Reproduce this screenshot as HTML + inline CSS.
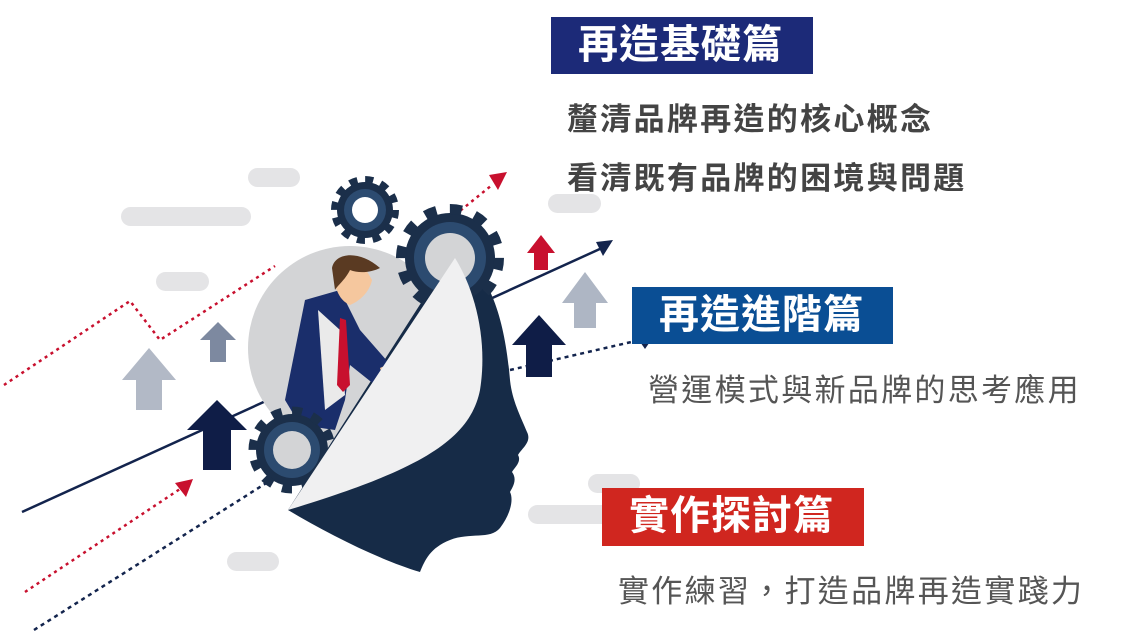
<!DOCTYPE html>
<html><head><meta charset="utf-8"><style>
html,body{margin:0;padding:0;background:#fff;}
body{width:1144px;height:633px;position:relative;overflow:hidden;font-family:"Liberation Sans","Noto Sans CJK TC",sans-serif;}
.box{position:absolute;color:#fff;font-weight:bold;font-size:40px;line-height:57px;letter-spacing:1px;}
.t{position:absolute;font-size:31px;letter-spacing:2.3px;white-space:nowrap;}
</style></head><body>
<svg width="1144" height="633" style="position:absolute;left:0;top:0">
<g fill="#e4e4e6">
<rect x="248" y="168" width="52" height="19" rx="9.5"/>
<rect x="121" y="207" width="130" height="19" rx="9.5"/>
<rect x="156" y="272" width="53" height="19" rx="9.5"/>
<rect x="548" y="194" width="53" height="19" rx="9.5"/>
<rect x="227" y="552" width="52" height="19" rx="9.5"/>
<rect x="588" y="474" width="52" height="19" rx="9.5"/>
<rect x="528" y="505" width="92" height="19" rx="9.5"/>
</g>
<polyline points="4,385 130,301 160,340 275,266" fill="none" stroke="#c8102e" stroke-width="2.5" stroke-dasharray="3,4"/>
<line x1="455" y1="215" x2="492" y2="185" stroke="#c8102e" stroke-width="2.5" stroke-dasharray="3,4"/>
<polygon points="489,175 507,172 498,190" fill="#c8102e"/>
<line x1="25" y1="592" x2="183" y2="487" stroke="#c8102e" stroke-width="2.5" stroke-dasharray="3,4"/>
<polygon points="175,483 193,479 186,497" fill="#c8102e"/>
<line x1="34" y1="630" x2="290" y2="468" stroke="#13244d" stroke-width="2.5" stroke-dasharray="4,4"/>
<line x1="510" y1="370" x2="640" y2="340" stroke="#13244d" stroke-width="2.5" stroke-dasharray="4,4"/>
<polygon points="636,336 656,333 645,349" fill="#13244d"/>
<line x1="22" y1="512" x2="602" y2="248" stroke="#13244d" stroke-width="2.5"/>
<polygon points="596,242 613,240 603,256" fill="#13244d"/>
<polygon points="122,380 149,348 176,380 162,380 162,410 136,410 136,380" fill="#b2b9c6"/>
<polygon points="200,340 218,322 236,340 226,340 226,362 210,362 210,340" fill="#7d89a0"/>
<polygon points="187,430 217,400 247,430 231,430 231,470 203,470 203,430" fill="#0f1d47"/>
<polygon points="527,253 541,235 555,253 548,253 548,270 534,270 534,253" fill="#c8102e"/>
<polygon points="562,303 585,272 608,303 596,303 596,328 574,328 574,303" fill="#aeb6c4"/>
<polygon points="512,345 539,315 566,345 552,345 552,377 526,377 526,345" fill="#0f1d47"/>
<circle cx="350" cy="348" r="102" fill="#d3d4d6"/>
<path d="M455,250 C490,270 505,320 510,380 C512,400 520,415 527,432 C532,442 522,448 518,455 C522,462 514,468 512,472 C518,480 512,488 510,492 C514,500 510,515 500,528 C490,540 470,532 450,540 C430,548 425,560 420,572 C380,560 330,535 288,510 Z" fill="#162b47"/>
<path d="M305,300 L340,290 L360,330 L395,370 L398,380 L375,385 L350,365 L345,400 L335,430 L300,425 L285,400 L295,350 Z" fill="#1a2e6b"/>
<path d="M318,310 L325,410 L345,395 L340,330 Z" fill="#eaeaea"/>
<path d="M340,318 L346,320 L350,385 L343,392 L337,385 Z" fill="#c8102e"/>
<path d="M335,270 C333,285 338,300 350,305 C362,300 370,290 372,280 L365,268 Z" fill="#f5c79e"/>
<path d="M332,268 C335,252 360,250 380,268 C372,272 360,274 350,270 C345,280 338,285 335,290 Z" fill="#5a3a22"/>
<path d="M380,368 C392,362 402,368 400,380 L385,382 Z" fill="#f5c79e"/>
<g transform="translate(365,210)">
<circle r="28" fill="#1b2f4a"/><circle r="30" fill="none" stroke="#1b2f4a" stroke-width="8" stroke-dasharray="8,7.7"/>
<circle r="21" fill="#2c4b70"/><circle r="13" fill="#fff"/></g>
<g transform="translate(450,258)">
<circle r="45" fill="#1b2f4a"/><circle r="49" fill="none" stroke="#1b2f4a" stroke-width="10" stroke-dasharray="12,13.6"/>
<circle r="36" fill="#2c4b70"/><circle r="25" fill="#d3d4d6"/></g>
<g transform="translate(292,450)">
<circle r="36" fill="#1b2f4a"/><circle r="39" fill="none" stroke="#1b2f4a" stroke-width="9" stroke-dasharray="10,10.4"/>
<circle r="28" fill="#2c4b70"/><circle r="19" fill="#d3d4d6"/></g>
<path d="M455,258 C475,290 488,340 480,390 C470,440 420,470 288,510 Z" fill="#f0f0f1"/>
</svg>
<div class="box" style="left:551px;top:17px;width:262px;height:57px;background:#1c2a78;"><span style="margin-left:27px">再造基礎篇</span></div>
<div class="t" style="left:567px;top:94px;color:#444;font-weight:bold;">釐清品牌再造的核心概念</div>
<div class="t" style="left:567px;top:153px;color:#444;font-weight:bold;">看清既有品牌的困境與問題</div>
<div class="box" style="left:632px;top:287px;width:261px;height:57px;background:#0a4e94;"><span style="margin-left:27px">再造進階篇</span></div>
<div class="t" style="left:648px;top:365px;color:#555;">營運模式與新品牌的思考應用</div>
<div class="box" style="left:602px;top:488px;width:262px;height:58px;background:#d0261f;"><span style="margin-left:27px">實作探討篇</span></div>
<div class="t" style="left:618px;top:566px;color:#555;">實作練習，打造品牌再造實踐力</div>
</body></html>
